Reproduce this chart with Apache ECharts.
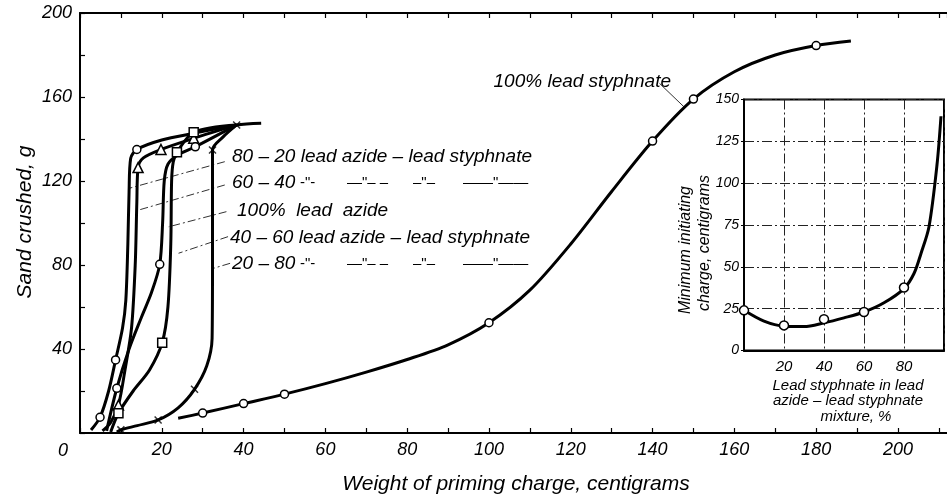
<!DOCTYPE html>
<html>
<head>
<meta charset="utf-8">
<script src="https://cdn.jsdelivr.net/npm/echarts@6/dist/echarts.min.js"></script>
<style>
html,body{margin:0;padding:0;background:#fff;}
#main{width:947px;height:498px;}
</style>
</head>
<body>
<div id="main"></div>
<script>
// 坐标轴标签
var mainXLabels=[20,40,60,80,100,120,140,160,180,200];
var mainYLabels=[40,80,120,160,200];
var insetXLabels=[20,40,60,80];
var insetYLabels=[0,25,50,75,100,125,150];

// 100% lead styphnate
var styphLine=[[24,7],[30,9.5],[40,14],[50,18.5],[60,23.5],[70,29],[80,35],[90,42],[100,52.5],[110,68],[120,90],[130,115],[140,139],[150,159],[160,172],[170,180],[180,184.5],[188.5,186.7]];
var styphPts=[[30,9.5],[40,14],[50,18.5],[100,52.5],[140,139],[150,159],[180,184.5]];

// 80-20 lead azide - lead styphnate
var mix8020Line=[[2.7,1.4],[4.9,7.5],[7,20],[8.7,34.8],[10.4,50],[11.2,63],[11.7,90],[12,115],[12.4,130.8],[13.9,135],[20,139.5],[27.8,142.7],[38.3,146.7],[44.3,147.5]];
var mix8020Pts=[[4.9,7.5],[8.7,34.8],[13.9,135]];

// 60-40
var mix6040Line=[[5.5,1],[7.5,5],[9.4,13.3],[11,30],[12.6,50],[13.5,80],[13.9,110],[14.2,126.4],[15.5,131],[19.8,135],[27.8,140.3],[38.3,146.7]];
var mix6040Pts=[[9.4,13.3],[14.2,126.4],[19.8,135],[27.8,140.3]];

// 100% lead azide
var azideLine=[[6.5,1],[9,21.3],[12,40],[15,55],[17.5,67],[19.5,80.3],[20.2,100],[20.6,120],[21.5,128],[24,132.5],[28.2,136.3],[38.3,146.7]];
var azidePts=[[9,21.3],[19.5,80.3],[28.2,136.3]];

// 40-60
var mix4060Line=[[7.5,0.5],[9.4,9.4],[13,20],[17,30],[20.1,43],[21.5,60],[22.2,90],[22.4,120],[22.8,129],[23.7,133.7],[27.8,143.2],[38.3,146.7]];
var mix4060Pts=[[9.4,9.4],[20.1,43],[23.7,133.7],[27.8,143.2]];

// 20-80
var mix2080Line=[[9,0.5],[10,1.5],[14,3.5],[19.1,6.2],[24,12],[28,20.8],[31,32],[32.3,45],[32.4,80],[32.4,134.8],[35,141],[38.3,146.7]];
var mix2080Pts=[[10,1.5],[19.1,6.2],[28,20.8],[32.4,134.8],[38.3,146.7]];

// 小图: minimum initiating charge
var insetLine=[[0,24],[10,17.5],[20,14.5],[30,14.3],[40,16.5],[50,19.5],[60,23],[70,28.5],[80,37],[85,46],[88.5,58],[92.5,74],[96.5,111],[98.5,140]];
var insetPts=[[0,24],[20,15],[40,18.75],[60,23],[80,37.6]];

// 引线
var leaders=[
  [[35.4,129.2],[12,116.5]],
  [[35.4,118.1],[14.4,106.2]],
  [[35.8,105.4],[21.7,98.2]],
  [[36.2,93.5],[24.1,85.6]],
  [[36.7,80.8],[32.6,78.4]]
];
var styphLeader=[[141.7,166.5],[147.8,155.1]];

var legendTexts=['80 – 20 lead azide – lead styphnate','60 – 40','100%  lead  azide','40 – 60 lead azide – lead styphnate','20 – 80'];

var plain='"Liberation Sans",sans-serif';
var crossPath='path://M0,0L10,10M10,0L0,10';

var curve=function(data,xi,yi){
  return {type:'line',data:data,xAxisIndex:xi||0,yAxisIndex:yi||0,smooth:0.3,symbol:'none',
    lineStyle:{color:'#000',width:3},silent:true,z:3};
};
var marks=function(data,symbol,size,xi,yi){
  return {type:'scatter',data:data,xAxisIndex:xi||0,yAxisIndex:yi||0,symbol:symbol,symbolSize:size,
    itemStyle:{color:'#fff',borderColor:'#000',borderWidth:1.5,opacity:1},silent:true,z:5};
};
var leaderLine=function(data,type){
  return {type:'line',data:data,symbol:'none',silent:true,z:2,
    lineStyle:{color:'#333',width:1,type:type}};
};

var txt=function(x,y,text,font,align,rot){
  return {type:'text',x:x,y:y,rotation:rot||0,silent:true,
    style:{text:text,font:font,fill:'#000',align:align||'left',textAlign:align||'left',verticalAlign:'middle',textVerticalAlign:'middle'}};
};

var series=[
  curve(styphLine),marks(styphPts,'circle',8),
  curve(mix8020Line),marks(mix8020Pts,'circle',8),
  curve(mix6040Line),marks(mix6040Pts,'triangle',10),
  curve(azideLine),marks(azidePts,'circle',8),
  curve(mix4060Line),marks(mix4060Pts,'rect',9),
  curve(mix2080Line),
  {type:'scatter',data:mix2080Pts,symbol:crossPath,symbolSize:7,silent:true,z:5,
    itemStyle:{color:'none',borderColor:'#000',borderWidth:1.5}},
  leaderLine(styphLeader,'solid'),
  curve(insetLine,2,1),marks(insetPts,'circle',9,2,1)
];
leaders.forEach(function(item){
  series.push(leaderLine(item,[8,3,2,3]));
});

var tickFont={color:'#000',fontStyle:'italic',fontFamily:plain};

var chart=echarts.init(document.getElementById('main'));
chart.setOption({
  backgroundColor:'#fff',
  animation:false,
  grid:[
    {left:80,top:13,width:874,height:420},
    {left:744,top:99.5,width:207,height:251,show:true,borderColor:'#000',borderWidth:2}
  ],
  xAxis:[
    {gridIndex:0,type:'value',min:0,max:212,interval:10,
      axisLine:{show:true,onZero:false,lineStyle:{color:'#000',width:2}},
      axisTick:{show:true,inside:true,length:5,lineStyle:{color:'#000',width:1.2}},
      axisLabel:Object.assign({margin:8,fontSize:18,showMaxLabel:false,
        formatter:function(v){return mainXLabels.indexOf(v)>=0?String(v):'';}},tickFont),
      splitLine:{show:false}},
    {gridIndex:0,type:'value',position:'top',min:0,max:212,interval:10,
      axisLine:{show:true,onZero:false,lineStyle:{color:'#000',width:2}},
      axisTick:{show:true,inside:true,length:5,lineStyle:{color:'#000',width:1.2}},
      axisLabel:{show:false},splitLine:{show:false}},
    {gridIndex:1,type:'value',min:0,max:100,interval:20,
      axisLine:{show:true,onZero:false,lineStyle:{color:'#000',width:2}},
      axisTick:{show:false},
      axisLabel:Object.assign({margin:9,fontSize:15,
        formatter:function(v){return insetXLabels.indexOf(v)>=0?String(v):'';}},tickFont),
      splitLine:{show:true,lineStyle:{color:'#222',width:1,type:[10,3,2,3]}}}
  ],
  yAxis:[
    {gridIndex:0,type:'value',min:0,max:200,interval:20,
      axisLine:{show:true,onZero:false,lineStyle:{color:'#000',width:2}},
      axisTick:{show:true,inside:true,length:5,lineStyle:{color:'#000',width:1.2}},
      axisLabel:Object.assign({margin:8,fontSize:18,
        formatter:function(v){return mainYLabels.indexOf(v)>=0?String(v):'';}},tickFont),
      splitLine:{show:false}},
    {gridIndex:1,type:'value',min:0,max:150,interval:25,
      axisLine:{show:true,onZero:false,lineStyle:{color:'#000',width:2}},
      axisTick:{show:true,length:3,lineStyle:{color:'#000',width:1}},
      axisLabel:Object.assign({margin:5,fontSize:14,
        formatter:function(v){return insetYLabels.indexOf(v)>=0?String(v):'';}},tickFont),
      splitLine:{show:true,lineStyle:{color:'#222',width:1,type:[10,3,2,3]}}}
  ],
  series:series,
  graphic:[
    txt(63,451,'0','italic 18px '+plain,'center'),
    txt(232,157,legendTexts[0],'italic 19px '+plain),
    txt(232,183,legendTexts[1],'italic 19px '+plain),
    txt(237,211,legendTexts[2],'italic 19px '+plain),
    txt(230,238,legendTexts[3],'italic 19px '+plain),
    txt(232,264,legendTexts[4],'italic 19px '+plain),
    txt(300,183,'-"-','15px '+plain),
    txt(347,183,'—"– –','15px '+plain),
    txt(413,183,'–"–','15px '+plain),
    txt(463,183,'——"——','15px '+plain),
    txt(300,264,'-"-','15px '+plain),
    txt(347,264,'—"– –','15px '+plain),
    txt(413,264,'–"–','15px '+plain),
    txt(463,264,'——"——','15px '+plain),
    txt(671,82,'100% lead styphnate','italic 19px '+plain,'right'),
    txt(516,484,'Weight of priming charge, centigrams','italic 21px '+plain,'center'),
    txt(25,222,'Sand crushed, g','italic 21px '+plain,'center',Math.PI/2),
    txt(686,250,'Minimum initiating','italic 16px '+plain,'center',Math.PI/2),
    txt(705,243,'charge, centigrams','italic 16px '+plain,'center',Math.PI/2),
    txt(848,386,'Lead styphnate in lead','italic 15px '+plain,'center'),
    txt(848,401,'azide – lead styphnate','italic 15px '+plain,'center'),
    txt(856,417,'mixture, %','italic 15px '+plain,'center')
  ]
});
</script>
</body>
</html>
